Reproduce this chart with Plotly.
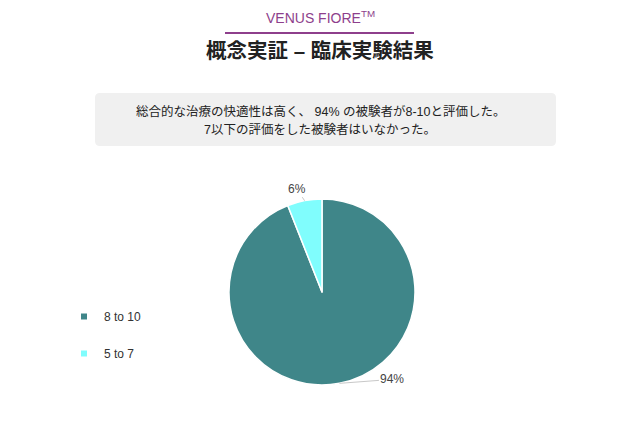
import math
import plotly.graph_objects as go

# data
labels = ['8 to 10', '5 to 7']
values = [94, 6]
colors = ['#3f8689', '#80fdfd']
brand = 'VENUS FIORE<sup>TM</sup>'
title = '概念実証 – 臨床実験結果'
summary = ['総合的な治療の快適性は高く、 94% の被験者が8-10と評価した。',
           '7以下の評価をした被験者はいなかった。']

FONT = 'Liberation Sans, Noto Sans CJK JP, sans-serif'
W, H = 640, 426
CX, CY, R = 322, 292, 93   # pie centre and radius in pixels


def px(x):
    return x / W


def py(y):
    return 1 - y / H


def rounded_box(x0, y0, x1, y1, r):
    # path in paper units, rounded corners of r pixels
    rx, ry = r / W, r / H
    a, b, c, d = px(x0), py(y1), px(x1), py(y0)
    return (f'M {a+rx},{b} L {c-rx},{b} Q {c},{b} {c},{b+ry} '
            f'L {c},{d-ry} Q {c},{d} {c-rx},{d} L {a+rx},{d} '
            f'Q {a},{d} {a},{d-ry} L {a},{b+ry} Q {a},{b} {a+rx},{b} Z')


fig = go.Figure()

fig.add_trace(go.Pie(
    labels=labels, values=values,
    marker=dict(colors=colors, line=dict(color='white', width=1.5)),
    sort=False, direction='clockwise', rotation=0,
    textinfo='none', hoverinfo='label+percent',
    showlegend=False,
    domain=dict(x=[px(CX - R), px(CX + R)], y=[py(CY + R), py(CY - R)]),
))

# legend entries, one group each so they can be spaced apart
for lab, col in zip(labels, colors):
    fig.add_trace(go.Scatter(
        x=[None], y=[None], mode='markers', name=lab, legendgroup=lab,
        marker=dict(symbol='square', size=6, color=col),
    ))

# percentage labels with connector lines, from each slice's mid angle
label_offsets = [(53, -4), (-8, -12)]
annotations = []
total = sum(values)
start = 0
for v, (ox, oy) in zip(values, label_offsets):
    mid = (start + v / 2) / total * 2 * math.pi
    start += v
    ex = CX + R * math.sin(mid)
    ey = CY - R * math.cos(mid)
    annotations.append(dict(
        text=f'{round(v / total * 100)}%', x=px(ex), y=py(ey),
        xref='paper', yref='paper', ax=ox, ay=oy,
        showarrow=True, arrowhead=0, arrowwidth=1, arrowcolor='#c8c8c8',
        font=dict(size=12, color='#444'),
    ))

annotations += [
    dict(text=brand, x=0.5, y=py(17), xref='paper', yref='paper', yanchor='middle',
         showarrow=False, font=dict(size=14, color='#8e3f8c')),
    dict(text='<b>' + title + '</b>', x=0.5, y=py(51), xref='paper', yref='paper',
         yanchor='middle', showarrow=False, font=dict(size=20.5, color='#222')),
    dict(text=summary[0], x=0.5, y=py(111), xref='paper', yref='paper', yanchor='middle',
         showarrow=False, font=dict(size=12.5, color='#222')),
    dict(text=summary[1], x=0.5, y=py(129), xref='paper', yref='paper', yanchor='middle',
         showarrow=False, font=dict(size=12.5, color='#222')),
]

fig.update_layout(
    width=W, height=H,
    margin=dict(l=0, r=0, t=0, b=0),
    paper_bgcolor='white', plot_bgcolor='white',
    font=dict(family=FONT, color='#333'),
    xaxis=dict(visible=False), yaxis=dict(visible=False),
    legend=dict(x=0.1, y=py(335), xanchor='left', yanchor='middle',
                traceorder='grouped', tracegroupgap=18,
                font=dict(size=12, color='#333'), itemwidth=30),
    shapes=[
        dict(type='line', xref='paper', yref='paper',
             x0=px(225), x1=px(414), y0=py(33), y1=py(33),
             line=dict(color='#8e3f8c', width=2)),
        dict(type='path', xref='paper', yref='paper',
             path=rounded_box(95, 93, 556, 146, 5),
             fillcolor='#f0f0f0', line=dict(width=0), layer='below'),
    ],
    annotations=annotations,
)

fig.write_html('out.html', config={'displayModeBar': False},
               post_script="document.body.style.margin='0';")
